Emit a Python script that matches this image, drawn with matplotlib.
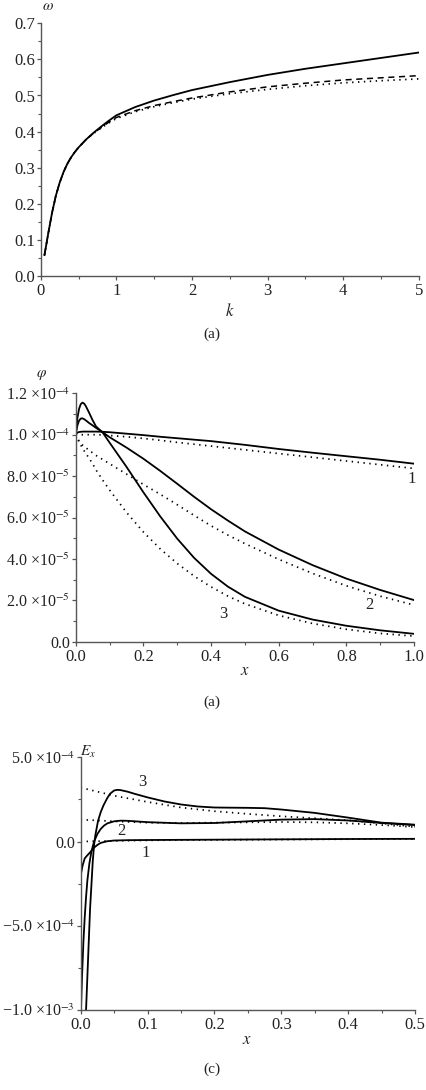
import matplotlib
matplotlib.use("Agg")
import matplotlib.pyplot as plt
from matplotlib.ticker import MultipleLocator

plt.rcParams['font.family'] = ['Liberation Serif', 'DejaVu Serif']
plt.rcParams['mathtext.fontset'] = 'stix'

# ---------------- Panel 1 data: omega(k) ----------------
k_vals = [0.05, 0.1, 0.15, 0.2, 0.25, 0.3, 0.35, 0.4, 0.45, 0.5, 0.6, 0.7, 0.8, 0.9, 1.0,
          1.25, 1.5, 1.75, 2.0, 2.5, 3.0, 3.5, 4.0, 4.5, 5.0]
omega_solid = [0.058, 0.118, 0.175, 0.222, 0.258, 0.287, 0.31, 0.328, 0.343, 0.356, 0.378,
               0.397, 0.414, 0.43, 0.445, 0.468, 0.486, 0.501, 0.515, 0.537, 0.557, 0.574,
               0.589, 0.604, 0.619]
omega_dash = [0.058, 0.118, 0.175, 0.222, 0.258, 0.287, 0.31, 0.328, 0.343, 0.356, 0.378,
              0.396, 0.411, 0.426, 0.439, 0.458, 0.472, 0.483, 0.493, 0.510, 0.524, 0.534,
              0.543, 0.549, 0.555]
omega_dot = [0.058, 0.118, 0.175, 0.222, 0.258, 0.287, 0.31, 0.328, 0.343, 0.356, 0.378,
             0.395, 0.41, 0.424, 0.436, 0.455, 0.469, 0.480, 0.490, 0.505, 0.517, 0.527,
             0.535, 0.541, 0.546]

# ---------------- Panel 2 data: phi(x), units of 1e-5 ----------------
x_phi = [0, 0.005, 0.01, 0.015, 0.02, 0.025, 0.03, 0.04, 0.05, 0.06, 0.08, 0.1, 0.15,
         0.2, 0.25, 0.3, 0.35, 0.4, 0.45, 0.5, 0.6, 0.7, 0.8, 0.9, 1.0]
phi1 = [10.0, 10.1, 10.13, 10.14, 10.15, 10.15, 10.15, 10.15, 10.15, 10.15, 10.14, 10.12,
        10.05, 9.98, 9.90, 9.83, 9.76, 9.69, 9.60, 9.51, 9.31, 9.13, 8.96, 8.79, 8.60]
phi1_dot = [10.0, 10.0, 10.0, 10.0, 10.0, 10.0, 10.0, 10.0, 10.0, 10.0, 9.99, 9.96,
            9.90, 9.82, 9.73, 9.63, 9.54, 9.45, 9.36, 9.27, 9.09, 8.91, 8.73, 8.55, 8.37]
phi2 = [10.0, 10.45, 10.68, 10.78, 10.79, 10.75, 10.69, 10.56, 10.45, 10.33, 10.12, 9.88,
        9.38, 8.84, 8.25, 7.63, 7.00, 6.40, 5.85, 5.33, 4.45, 3.70, 3.05, 2.50, 2.01]
phi2_dot = [10.0, 9.85, 9.68, 9.58, 9.50, 9.43, 9.37, 9.24, 9.12, 9.00, 8.80, 8.60, 8.10,
            7.60, 7.12, 6.62, 6.10, 5.60, 5.15, 4.74, 3.98, 3.30, 2.70, 2.20, 1.77]
phi3 = [10.0, 10.8, 11.25, 11.48, 11.55, 11.5, 11.38, 11.05, 10.7, 10.4, 10.1, 9.62,
        8.45, 7.22, 6.05, 4.98, 4.05, 3.28, 2.66, 2.17, 1.50, 1.07, 0.77, 0.55, 0.38]
phi3_dot = [10.0, 9.85, 9.65, 9.50, 9.35, 9.22, 9.10, 8.85, 8.60, 8.30, 7.80, 7.33, 6.25,
            5.30, 4.48, 3.78, 3.17, 2.65, 2.20, 1.83, 1.27, 0.88, 0.60, 0.40, 0.27]

# ---------------- Panel 3 data: Ex(x), units of 1e-4 ----------------
x_E1 = [0, 0.003, 0.006, 0.009, 0.015, 0.02, 0.025, 0.03, 0.04, 0.05, 0.07, 0.1, 0.2,
        0.3, 0.4, 0.5]
E1 = [-2.0, -1.4, -1.0, -0.86, -0.6, -0.36, -0.2, -0.08, 0.02, 0.06, 0.08, 0.09, 0.11,
      0.13, 0.15, 0.16]
x_E2 = [0, 0.002, 0.004, 0.006, 0.008, 0.01, 0.013, 0.016, 0.02, 0.025, 0.03, 0.035,
        0.04, 0.05, 0.06, 0.07, 0.1, 0.15, 0.2, 0.25, 0.3, 0.35, 0.4, 0.45, 0.5]
E2 = [-10.5, -8.0, -6.0, -4.5, -3.3, -2.3, -1.3, -0.6, 0.0, 0.45, 0.75, 0.95, 1.08, 1.2,
      1.24, 1.23, 1.15, 1.08, 1.1, 1.2, 1.3, 1.33, 1.25, 1.1, 0.98]
x_E3 = [0.006, 0.008, 0.01, 0.012, 0.014, 0.016, 0.018, 0.02, 0.022, 0.026, 0.03, 0.034,
        0.04, 0.044, 0.05, 0.055, 0.06, 0.07, 0.08, 0.1, 0.125, 0.15, 0.175, 0.2, 0.25,
        0.275, 0.3, 0.35, 0.4, 0.45, 0.5]
E3 = [-11.0, -10.0, -8.0, -6.0, -4.0, -2.6, -1.2, -0.2, 0.4, 1.24, 1.75, 2.14, 2.6, 2.84,
      3.03, 3.07, 3.05, 2.96, 2.84, 2.62, 2.38, 2.2, 2.08, 2.02, 2.0, 1.98, 1.9, 1.7,
      1.42, 1.12, 1.0]
x_Ed = [0, 0.05, 0.1, 0.15, 0.2, 0.25, 0.3, 0.35, 0.4, 0.45, 0.5]
E1_dot = [0.0, 0.04, 0.07, 0.09, 0.10, 0.11, 0.12, 0.13, 0.14, 0.15, 0.15]
E2_dot = [1.3, 1.2, 1.12, 1.1, 1.12, 1.14, 1.16, 1.14, 1.08, 0.98, 0.86]
E3_dot = [3.2, 2.72, 2.35, 2.02, 1.8, 1.64, 1.5, 1.38, 1.26, 1.08, 0.88]

# ---------------- tick labels ----------------
p1_yticks = [0.0, 0.1, 0.2, 0.3, 0.4, 0.5, 0.6, 0.7]
p1_xticks = [0, 1, 2, 3, 4, 5]
p2_yticks = [0.0, 2e-5, 4e-5, 6e-5, 8e-5, 1e-4, 1.2e-4]
p2_ylabels = ['0.0', '2.0 ×10$^{-5}$', '4.0 ×10$^{-5}$', '6.0 ×10$^{-5}$',
              '8.0 ×10$^{-5}$', '1.0 ×10$^{-4}$', '1.2 ×10$^{-4}$']
p2_xticks = [0.0, 0.2, 0.4, 0.6, 0.8, 1.0]
p3_yticks = [-1e-3, -5e-4, 0.0, 5e-4]
p3_ylabels = ['\u22121.0 ×10$^{-3}$', '\u22125.0 ×10$^{-4}$', '0.0', '5.0 ×10$^{-4}$']
p3_xticks = [0.0, 0.1, 0.2, 0.3, 0.4, 0.5]

W, H = 426, 1090
fig = plt.figure(figsize=(W / 100, H / 100), dpi=100)

AX_COL = '#555555'
TXT = '#222222'
FS = 12


def ax_at(left, top, right, bottom):
    return fig.add_axes([left / W, 1 - bottom / H, (right - left) / W, (bottom - top) / H])


def style(ax, ylab_fs=FS):
    for s in ('top', 'right'):
        ax.spines[s].set_visible(False)
    for s in ('left', 'bottom'):
        ax.spines[s].set_color(AX_COL)
        ax.spines[s].set_linewidth(1.0)
    ax.tick_params(which='both', direction='out', colors=AX_COL, labelcolor=TXT,
                   labelsize=FS)
    ax.tick_params(which='major', length=3.0, width=0.9, pad=2.0)
    ax.tick_params(which='minor', length=2, width=0.8)
    ax.tick_params(axis='y', which='major', labelsize=ylab_fs, pad=1.2)


def ftext(px, py, s, **kw):
    kw.setdefault('ha', 'center')
    kw.setdefault('va', 'center')
    kw.setdefault('color', TXT)
    fig.text(px / W, 1 - py / H, s, **kw)


LW = 1.3
DOT = (0, (0.8, 2.6))
DLW = 1.25

# ---------- Panel 1 ----------
ax1 = ax_at(40.7, 23.3, 418.7, 276)
ax1.plot(k_vals, omega_dot, color='black', lw=DLW, ls=DOT)
ax1.plot(k_vals, omega_dash, color='black', lw=1.1, ls=(0, (4, 3)))
ax1.plot(k_vals, omega_solid, color='black', lw=LW)
ax1.set_xlim(0, 5)
ax1.set_ylim(0, 0.7)
ax1.set_yticks(p1_yticks)
ax1.set_yticklabels([f'{v:.1f}' for v in p1_yticks])
ax1.set_xticks(p1_xticks)
ax1.set_xticklabels([str(v) for v in p1_xticks])
ax1.xaxis.set_minor_locator(MultipleLocator(0.5))
ax1.yaxis.set_minor_locator(MultipleLocator(0.05))
style(ax1)
ftext(48, 7, r'$\omega$', fontsize=11)
ftext(230, 311, r'$k$', fontsize=12)
ftext(212, 334, '(a)', fontsize=11)

# ---------- Panel 2 ----------
ax2 = ax_at(75.7, 393.3, 414, 641.7)
sc = 1e-5
for ys, yd in ((phi1, phi1_dot), (phi2, phi2_dot), (phi3, phi3_dot)):
    ax2.plot(x_phi, [v * sc for v in yd], color='black', lw=DLW, ls=DOT)
    ax2.plot(x_phi, [v * sc for v in ys], color='black', lw=LW)
ax2.set_xlim(0, 1.0)
ax2.set_ylim(0, 1.2e-4)
ax2.set_yticks(p2_yticks)
ax2.set_yticklabels(p2_ylabels)
ax2.set_xticks(p2_xticks)
ax2.set_xticklabels([f'{v:.1f}' for v in p2_xticks])
ax2.xaxis.set_minor_locator(MultipleLocator(0.1))
ax2.yaxis.set_minor_locator(MultipleLocator(1e-5))
style(ax2, ylab_fs=11.5)
ax2.yaxis.get_offset_text().set_visible(False)
ftext(41, 375, r'$\varphi$', fontsize=11)
ftext(245, 671, r'$x$', fontsize=12)
ftext(212, 702, '(a)', fontsize=11)
ftext(412, 479, '1', fontsize=12)
ftext(369, 605, '2', fontsize=12)
ftext(223, 614, '3', fontsize=12)

# ---------- Panel 3 ----------
ax3 = ax_at(80.7, 757.3, 415, 1010)
se = 1e-4
ax3.plot(x_Ed, [v * se for v in E1_dot], color='black', lw=DLW, ls=DOT)
ax3.plot(x_Ed, [v * se for v in E2_dot], color='black', lw=DLW, ls=DOT)
ax3.plot(x_Ed, [v * se for v in E3_dot], color='black', lw=DLW, ls=DOT)
ax3.plot(x_E1, [v * se for v in E1], color='black', lw=LW)
ax3.plot(x_E2, [v * se for v in E2], color='black', lw=LW)
ax3.plot(x_E3, [v * se for v in E3], color='black', lw=LW)
ax3.set_xlim(0, 0.5)
ax3.set_ylim(-1e-3, 5e-4)
ax3.set_yticks(p3_yticks)
ax3.set_yticklabels(p3_ylabels)
ax3.set_xticks(p3_xticks)
ax3.set_xticklabels([f'{v:.1f}' for v in p3_xticks])
ax3.xaxis.set_minor_locator(MultipleLocator(0.05))
ax3.yaxis.set_minor_locator(MultipleLocator(2.5e-4))
style(ax3, ylab_fs=11.5)
ax3.yaxis.get_offset_text().set_visible(False)
ftext(88, 752, r'$E_x$', fontsize=11)
ftext(247, 1040, r'$x$', fontsize=12)
ftext(212, 1069, '(c)', fontsize=11)
ftext(142, 782, '3', fontsize=12)
ftext(121, 831, '2', fontsize=12)
ftext(146, 853, '1', fontsize=12)

fig.savefig('out.png', dpi=100, facecolor='white')
